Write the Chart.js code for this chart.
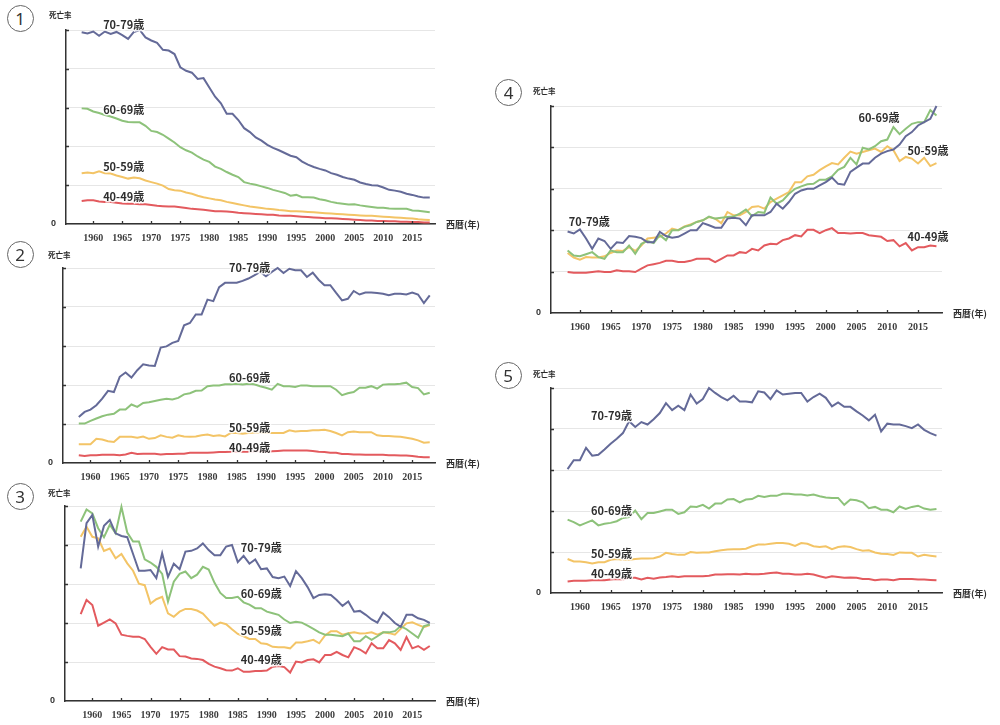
<!DOCTYPE html>
<html>
<head>
<meta charset="utf-8">
<script src="https://cdn.jsdelivr.net/npm/chart.js@4.4.0/dist/chart.umd.min.js"></script>
<style>
  body { margin: 0; background: #fff; width: 1000px; height: 725px; position: relative; overflow: hidden;
         font-family: "Noto Sans CJK JP", "Noto Sans", sans-serif; }
  .box { position: absolute; }
  .num { position: absolute; width: 25px; height: 25px; border: 1.5px solid #666; border-radius: 50%;
         font: 17px/25px "Noto Sans", sans-serif; text-align: center; color: #333; }
  .ylab { position: absolute; font-weight: bold; font-size: 7.5px; color: #2a2a2a; line-height: 8px; }
</style>
</head>
<body>
<script>
// years 1958-2018
let years = Array.from({ length: 61 }, (_, i) => 1958 + i);
let xTicks = [1960, 1965, 1970, 1975, 1980, 1985, 1990, 1995, 2000, 2005, 2010, 2015];
let ageGroups = ["70-79歳", "60-69歳", "50-59歳", "40-49歳"];
let colors = ["#646a98", "#8dc27a", "#f3c466", "#e35a5e"];

// panel 1
let p1_70 = [4.94,4.91,4.96,4.85,4.96,4.90,4.95,4.87,4.77,4.95, 5.0,4.81,4.73,4.67,4.49,4.47,4.38,4.04,3.95,3.90,
  3.74,3.76,3.52,3.28,3.11,2.84,2.84,2.68,2.47,2.37, 2.23,2.15,2.04,1.96,1.90,1.83,1.76,1.72,1.61,1.53,
  1.47,1.42,1.38,1.31,1.27,1.21,1.17,1.14,1.07,1.03, 1.00,0.99,0.94,0.88,0.86,0.83,0.78,0.75,0.71,0.68, 0.68];
let p1_60 = [2.98,2.97,2.90,2.86,2.81,2.77,2.72,2.66,2.63,2.62, 2.62,2.53,2.40,2.37,2.30,2.20,2.10,1.98,1.90,1.84,
  1.74,1.66,1.60,1.48,1.42,1.34,1.27,1.21,1.08,1.04, 1.01,0.97,0.93,0.88,0.84,0.80,0.73,0.75,0.69,0.69,
  0.68,0.64,0.61,0.57,0.54,0.52,0.50,0.51,0.48,0.46, 0.44,0.42,0.42,0.40,0.39,0.39,0.39,0.35,0.34,0.32, 0.30];
let p1_50 = [1.31,1.33,1.31,1.36,1.31,1.30,1.25,1.21,1.17,1.20, 1.18,1.12,1.08,1.04,0.99,0.90,0.87,0.86,0.81,0.78,
  0.73,0.69,0.66,0.63,0.61,0.57,0.54,0.51,0.48,0.45, 0.43,0.41,0.39,0.38,0.36,0.35,0.33,0.33,0.32,0.31,
  0.30,0.29,0.28,0.27,0.26,0.25,0.24,0.23,0.22,0.21, 0.21,0.20,0.19,0.18,0.17,0.16,0.15,0.14,0.12,0.11, 0.10];
let p1_40 = [0.59,0.61,0.61,0.58,0.57,0.57,0.55,0.53,0.52,0.52, 0.51,0.51,0.49,0.47,0.46,0.45,0.45,0.43,0.41,0.39,
  0.38,0.37,0.35,0.33,0.33,0.32,0.31,0.29,0.28,0.27, 0.26,0.25,0.24,0.24,0.22,0.21,0.21,0.20,0.19,0.18,
  0.17,0.16,0.15,0.15,0.14,0.13,0.12,0.11,0.10,0.09, 0.09,0.08,0.08,0.07,0.07,0.06,0.06,0.05,0.05,0.04, 0.04];

// panel 2
let p2_70 = [1.18,1.31,1.37,1.48,1.65,1.85,1.82,2.21,2.32,2.19, 2.38,2.53,2.50,2.49,2.96,2.99,3.08,3.13,3.53,3.59,
  3.81,3.81,4.19,4.15,4.51,4.62,4.62,4.62,4.67,4.73, 4.81,4.90,4.79,4.90,5.0,4.87,4.98,4.94,4.94,4.77,
  4.88,4.70,4.56,4.56,4.36,4.17,4.21,4.41,4.32,4.37, 4.37,4.36,4.34,4.30,4.34,4.34,4.32,4.37,4.32,4.10, 4.30];
let p2_60 = [1.01,1.01,1.08,1.14,1.20,1.24,1.26,1.37,1.37,1.50, 1.44,1.54,1.56,1.59,1.62,1.65,1.63,1.67,1.76,1.79,
  1.85,1.86,1.97,1.99,1.99,2.02,2.02,2.03,2.01,2.03, 2.02,1.97,1.93,1.88,2.03,1.97,1.97,1.95,1.99,1.99,
  1.97,1.97,1.97,1.97,1.88,1.74,1.79,1.82,1.93,1.93, 1.97,1.91,2.01,2.02,2.02,2.03,2.06,1.95,1.92,1.76, 1.80];
let p2_50 = [0.48,0.48,0.48,0.62,0.60,0.56,0.54,0.67,0.67,0.67, 0.65,0.68,0.62,0.64,0.71,0.67,0.65,0.71,0.68,0.67,
  0.68,0.71,0.73,0.69,0.71,0.68,0.77,0.77,0.75,0.77, 0.78,0.78,0.77,0.77,0.77,0.77,0.84,0.81,0.82,0.82,
  0.84,0.84,0.85,0.82,0.77,0.71,0.79,0.81,0.79,0.79, 0.79,0.71,0.69,0.69,0.68,0.67,0.65,0.62,0.58,0.52, 0.53];
let p2_40 = [0.20,0.18,0.20,0.20,0.21,0.21,0.21,0.20,0.22,0.26, 0.23,0.24,0.24,0.24,0.22,0.23,0.23,0.24,0.24,0.26,
  0.26,0.26,0.26,0.27,0.28,0.28,0.29,0.29,0.29,0.29, 0.30,0.30,0.29,0.30,0.31,0.32,0.32,0.32,0.32,0.32,
  0.31,0.29,0.28,0.26,0.26,0.23,0.23,0.22,0.22,0.21, 0.21,0.21,0.21,0.20,0.20,0.19,0.19,0.18,0.16,0.15, 0.15];

// panel 3
let p3_70 = [3.40,4.56,4.77,3.96,4.49,4.64,4.30,4.23,4.20,3.77, 3.34,3.34,3.36,3.15,3.79,3.18,3.52,3.38,3.83,3.85,
  3.91,4.04,3.87,3.74,3.74,3.96,4.00,3.56,3.72,3.52, 3.63,3.38,3.40,3.18,3.15,3.19,2.95,3.33,3.15,2.92,
  2.64,2.72,2.74,2.72,2.59,2.44,2.55,2.29,2.31,2.21, 2.09,2.01,2.27,2.15,2.00,1.90,2.21,2.21,2.12,2.08, 2.00];
let p3_60 = [4.60,4.91,4.81,4.43,4.20,4.52,4.30,4.98,4.32,4.09, 4.09,3.63,3.55,3.44,3.26,2.55,3.06,3.26,3.32,3.15,
  3.24,3.44,3.37,3.03,2.77,2.64,2.64,2.67,2.53,2.47, 2.38,2.38,2.29,2.25,2.21,2.09,2.00,2.03,2.01,1.93,
  1.85,1.76,1.70,1.70,1.68,1.66,1.73,1.53,1.53,1.66, 1.57,1.66,1.76,1.76,1.79,1.92,1.84,1.73,1.62,1.92, 1.96];
let p3_50 = [4.21,4.47,4.21,4.17,3.85,3.91,3.66,3.77,3.53,3.34, 3.01,2.97,2.50,2.61,2.67,2.25,2.16,2.29,2.36,2.36,
  2.32,2.24,2.08,1.93,2.01,1.97,1.84,1.72,1.66,1.59, 1.59,1.48,1.46,1.39,1.38,1.38,1.35,1.50,1.50,1.53,
  1.57,1.48,1.68,1.79,1.79,1.70,1.74,1.76,1.73,1.74, 1.76,1.70,1.76,1.74,1.70,1.85,1.99,2.02,1.95,1.89, 1.95];
let p3_40 = [2.23,2.59,2.46,1.93,2.01,2.09,1.99,1.70,1.67,1.65, 1.65,1.59,1.39,1.21,1.38,1.32,1.32,1.15,1.14,1.09,
  1.08,1.05,0.95,0.88,0.84,0.79,0.78,0.84,0.75,0.75, 0.77,0.77,0.78,0.88,0.90,0.87,0.73,1.01,0.99,1.05,
  1.07,0.99,1.18,1.18,1.26,1.18,1.12,1.38,1.32,1.22, 1.48,1.35,1.35,1.56,1.48,1.31,1.64,1.35,1.41,1.31, 1.41];

// panel 4
let p4_70 = [1.97,1.92,2.02,1.80,1.55,1.80,1.74,1.55,1.71,1.69, 1.86,1.84,1.81,1.71,1.71,1.96,1.86,1.82,1.84,1.92,
  2.00,2.00,2.17,2.12,2.06,2.06,2.28,2.30,2.28,2.12, 2.36,2.36,2.36,2.44,2.64,2.52,2.68,2.88,2.96,3.00,
  3.00,3.08,3.16,3.27,3.12,3.10,3.41,3.51,3.61,3.61, 3.75,3.85,3.91,3.95,4.07,4.27,4.37,4.53,4.61,4.69, 5.0];
let p4_60 = [1.51,1.39,1.37,1.42,1.47,1.35,1.31,1.51,1.47,1.47, 1.63,1.43,1.67,1.74,1.69,1.88,1.76,2.00,2.00,2.08,
  2.12,2.20,2.24,2.33,2.28,2.30,2.32,2.33,2.40,2.50, 2.34,2.44,2.42,2.79,2.64,2.72,2.88,3.00,3.06,3.11,
  3.12,3.22,3.22,3.30,3.46,3.53,3.75,3.59,3.99,3.95, 4.03,4.15,4.19,4.49,4.32,4.45,4.57,4.61,4.61,4.90, 4.77];
let p4_50 = [1.45,1.34,1.29,1.35,1.34,1.34,1.37,1.45,1.51,1.50, 1.59,1.50,1.63,1.80,1.82,1.84,1.92,2.04,2.00,2.09,
  2.14,2.20,2.24,2.32,2.28,2.17,2.44,2.36,2.36,2.44, 2.56,2.58,2.52,2.68,2.76,2.84,2.92,3.16,3.16,3.30,
  3.34,3.45,3.54,3.62,3.59,3.75,3.90,3.85,3.89,3.93, 3.97,3.89,4.03,3.93,3.67,3.77,3.73,3.61,3.75,3.55, 3.62];
let p4_40 = [0.99,0.97,0.97,0.97,0.99,1.01,0.99,0.99,1.03,1.01, 1.01,0.99,1.07,1.15,1.18,1.21,1.26,1.26,1.23,1.23,
  1.26,1.31,1.31,1.31,1.23,1.31,1.39,1.39,1.47,1.45, 1.55,1.51,1.63,1.67,1.66,1.76,1.80,1.88,1.85,2.01,
  2.01,1.93,2.00,2.05,1.93,1.93,1.92,1.93,1.93,1.88, 1.86,1.84,1.74,1.76,1.61,1.69,1.51,1.59,1.59,1.63, 1.61];

// panel 5
let p5_70 = [3.02,3.24,3.24,3.54,3.35,3.37,3.50,3.64,3.76,3.90, 4.19,4.05,4.17,4.11,4.24,4.39,4.63,4.46,4.57,4.46,
  4.84,4.62,4.73,5.0,4.88,4.78,4.70,4.81,4.67,4.67, 4.65,4.92,4.89,4.73,4.94,4.84,4.86,4.88,4.88,4.67,
  4.78,4.86,4.76,4.55,4.65,4.54,4.54,4.43,4.33,4.21, 4.35,3.94,4.13,4.11,4.11,4.07,4.02,4.11,3.98,3.90, 3.84];
let p5_60 = [1.79,1.73,1.65,1.71,1.77,1.65,1.69,1.71,1.75,1.83, 1.85,2.01,1.80,1.95,1.95,1.99,2.03,2.03,1.93,1.97,
  2.11,2.10,2.15,2.06,2.18,2.18,2.28,2.29,2.21,2.28, 2.29,2.37,2.34,2.37,2.37,2.42,2.42,2.40,2.40,2.38,
  2.40,2.36,2.33,2.32,2.32,2.15,2.28,2.26,2.21,2.07, 2.10,2.03,2.03,1.97,2.11,2.05,2.10,2.13,2.06,2.03, 2.05];
let p5_50 = [0.83,0.77,0.77,0.75,0.72,0.75,0.75,0.81,0.83,0.81, 0.81,0.83,0.84,0.84,0.85,0.89,0.98,0.95,0.93,0.93,
  1.00,0.98,0.99,0.99,1.02,1.04,1.06,1.07,1.07,1.08, 1.14,1.18,1.18,1.20,1.22,1.22,1.20,1.15,1.22,1.20,
  1.14,1.12,1.14,1.07,1.12,1.14,1.12,1.07,1.03,1.04, 0.99,0.96,0.95,0.93,0.99,0.98,0.98,0.89,0.93,0.91, 0.89];
let p5_40 = [0.28,0.30,0.30,0.30,0.31,0.31,0.31,0.33,0.34,0.33, 0.37,0.37,0.33,0.37,0.35,0.38,0.39,0.41,0.39,0.41,
  0.41,0.41,0.41,0.42,0.45,0.45,0.46,0.46,0.45,0.47, 0.46,0.46,0.47,0.49,0.50,0.47,0.47,0.45,0.45,0.47,
  0.45,0.41,0.37,0.41,0.39,0.37,0.38,0.37,0.34,0.34, 0.31,0.33,0.33,0.31,0.34,0.34,0.34,0.33,0.33,0.32, 0.31];

// where each age label sits, in [year, value]
let p1_labelAt = [[1961.7, 5.13], [1961.7, 2.94], [1961.7, 1.48], [1961.7, 0.70]];
let p2_labelAt = [[1983.7, 5.0], [1983.7, 2.19], [1983.7, 0.89], [1983.7, 0.40]];
let p3_labelAt = [[1985.5, 3.92], [1985.5, 2.74], [1985.5, 1.80], [1985.5, 1.05]];
let p4_labelAt = [[1958.2, 2.2], [2005.3, 4.72], [2013.3, 3.91], [2013.3, 1.84]];
let p5_labelAt = [[1961.8, 4.32], [1961.8, 2.0], [1961.8, 0.95], [1961.8, 0.48]];

let panels = [
  { no: "1", box: { left: 66, top: 30, right: 435, bottom: 224 }, circle: [20.5, 18.5], yl: [49, 11], series: [p1_70, p1_60, p1_50, p1_40], labelAt: p1_labelAt },
  { no: "2", box: { left: 63, top: 268, right: 435, bottom: 463 }, circle: [20.5, 255], yl: [48, 251], series: [p2_70, p2_60, p2_50, p2_40], labelAt: p2_labelAt },
  { no: "3", box: { left: 65, top: 506, right: 435, bottom: 701 }, circle: [20.5, 496.5], yl: [48, 489], series: [p3_70, p3_60, p3_50, p3_40], labelAt: p3_labelAt },
  { no: "4", box: { left: 551, top: 106, right: 942, bottom: 313 }, circle: [509, 93], yl: [533, 87], series: [p4_70, p4_60, p4_50, p4_40], labelAt: p4_labelAt },
  { no: "5", box: { left: 551, top: 388, right: 942, bottom: 593 }, circle: [508.5, 375.5], yl: [533, 370], series: [p5_70, p5_60, p5_50, p5_40], labelAt: p5_labelAt },
];

const padTop = 16, padRight = 58, yAxisW = 30, xAxisH = 24;

const panelText = {
  id: "panelText",
  afterDatasetsDraw(chart, args, opts) {
    const { ctx, chartArea, scales } = chart;
    ctx.save();
    // small tick marks pointing into the plot
    ctx.strokeStyle = "#333";
    ctx.lineWidth = 1.3;
    ctx.beginPath();
    xTicks.forEach((t) => {
      const x = Math.round(scales.x.getPixelForValue(t)) + 0.5;
      ctx.moveTo(x, chartArea.bottom);
      ctx.lineTo(x, chartArea.bottom - 3);
    });
    for (let v = 1; v <= 5; v++) {
      const y = Math.round(scales.y.getPixelForValue(v)) + 0.5;
      ctx.moveTo(chartArea.left, y);
      ctx.lineTo(chartArea.left + 3, y);
    }
    ctx.stroke();

    ctx.font = 'bold 11px "Noto Sans CJK JP"';
    ctx.textBaseline = "middle";
    ctx.textAlign = "left";
    opts.labelAt.forEach((p, i) => {
      const x = scales.x.getPixelForValue(p[0]);
      const y = scales.y.getPixelForValue(p[1]);
      ctx.lineWidth = 3;
      ctx.strokeStyle = "rgba(255,255,255,0.85)";
      ctx.strokeText(ageGroups[i], x, y);
      ctx.fillStyle = "#2e2e2e";
      ctx.fillText(ageGroups[i], x, y);
    });
    ctx.font = 'bold 9px "Noto Sans CJK JP"';
    ctx.fillStyle = "#2e2e2e";
    ctx.fillText("西暦(年)", chartArea.right + 11, chartArea.bottom + 1);
    ctx.restore();
  },
};

panels.forEach((p) => {
  let b = p.box;
  let wrap = document.createElement("div");
  wrap.className = "box";
  wrap.style.left = b.left - yAxisW + "px";
  wrap.style.top = b.top - padTop + "px";
  wrap.style.width = b.right - b.left + yAxisW + padRight + "px";
  wrap.style.height = b.bottom - b.top + padTop + xAxisH + "px";
  let cv = document.createElement("canvas");
  wrap.appendChild(cv);
  document.body.appendChild(wrap);

  let num = document.createElement("div");
  num.className = "num";
  num.textContent = p.no;
  num.style.left = p.circle[0] - 14 + "px";
  num.style.top = p.circle[1] - 14 + "px";
  document.body.appendChild(num);

  let yl = document.createElement("div");
  yl.className = "ylab";
  yl.textContent = "死亡率";
  yl.style.left = p.yl[0] + "px";
  yl.style.top = p.yl[1] + "px";
  document.body.appendChild(yl);

  new Chart(cv, {
    type: "line",
    data: {
      datasets: p.series.map((s, i) => ({
        label: ageGroups[i],
        data: s.map((v, k) => ({ x: years[k], y: v })),
        borderColor: colors[i],
        borderWidth: 2,
        pointRadius: 0,
        tension: 0,
        clip: 4,
      })),
    },
    options: {
      responsive: true,
      maintainAspectRatio: false,
      animation: false,
      layout: { padding: { top: padTop, right: padRight, left: 0, bottom: 0 } },
      scales: {
        x: {
          type: "linear",
          min: 1955.3,
          max: 2018.9,
          afterBuildTicks: (scale) => {
            scale.ticks = xTicks.map((v) => ({ value: v }));
          },
          afterFit: (scale) => {
            scale.height = xAxisH;
          },
          border: { display: true, color: "#333", width: 1.5 },
          grid: { display: false },
          ticks: {
            autoSkip: false,
            maxRotation: 0,
            padding: 0,
            color: "#3c3c3c",
            font: { family: "Liberation Serif", size: 10, weight: "bold" },
            callback: (v) => String(v),
          },
        },
        y: {
          min: 0,
          max: 5,
          afterFit: (scale) => {
            scale.width = yAxisW;
          },
          border: { display: true, color: "#333", width: 1.5 },
          grid: { color: "#e6e6e6", lineWidth: 1, drawTicks: false },
          ticks: {
            stepSize: 1,
            padding: 10,
            color: "#333",
            font: { family: "Liberation Sans", size: 9, weight: "bold" },
            callback: (v) => (v === 0 ? "0" : ""),
          },
        },
      },
      plugins: {
        legend: { display: false },
        tooltip: { enabled: false },
        panelText: { labelAt: p.labelAt },
      },
    },
    plugins: [panelText],
  });
});
</script>
</body>
</html>
